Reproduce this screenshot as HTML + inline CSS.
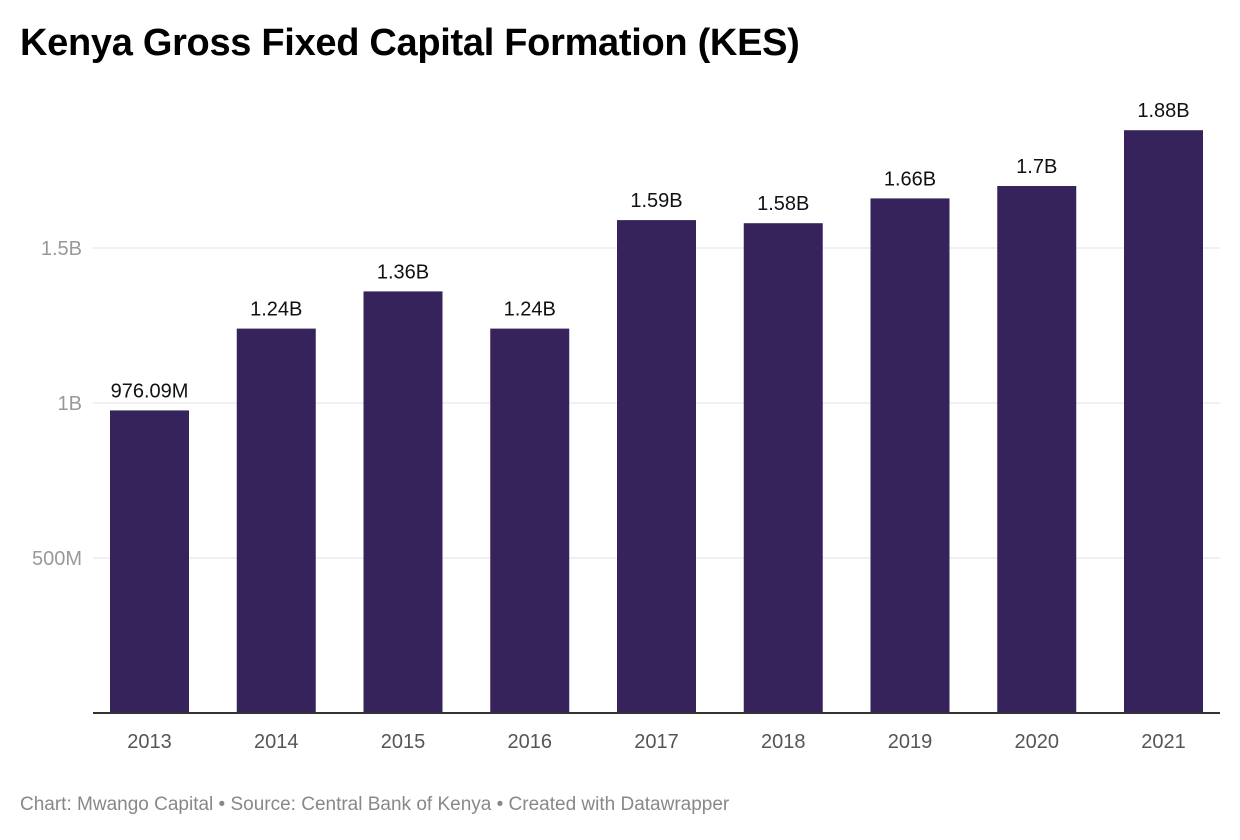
<!DOCTYPE html>
<html><head><meta charset="utf-8"><style>
body{margin:0;background:#fff;font-family:"Liberation Sans",Arial,sans-serif;}
#wrap{position:relative;width:1240px;height:840px;overflow:hidden}
h1{position:absolute;left:20px;top:22px;margin:0;font-size:38px;font-weight:bold;color:#000;letter-spacing:-0.3px}
#foot{position:absolute;left:20px;top:794px;font-size:19px;color:#888}
</style></head><body>
<div id="wrap">
<h1>Kenya Gross Fixed Capital Formation (KES)</h1>
<svg id="chart" width="1240" height="840" style="position:absolute;left:0;top:0"></svg>
<div id="foot">Chart: Mwango Capital • Source: Central Bank of Kenya • Created with Datawrapper</div>
</div>
<script>
const categories=["2013","2014","2015","2016","2017","2018","2019","2020","2021"];
const values=[976.09,1240,1360,1240,1590,1580,1660,1700,1880];
const valueLabels=["976.09M","1.24B","1.36B","1.24B","1.59B","1.58B","1.66B","1.7B","1.88B"];
const ticks=[500,1000,1500];
const tickLabels=["500M","1B","1.5B"];
const svg=document.getElementById('chart');
const NS="http://www.w3.org/2000/svg";
const base=713, pxPerM=0.31, x0=110, step=126.75, bw=79;
function y(v){return base-v*pxPerM;}
function x(i){return x0+i*step;}
function mk(t,a,txt){const e=document.createElementNS(NS,t);for(const k in a)e.setAttribute(k,a[k]);if(txt!==undefined)e.textContent=txt;svg.appendChild(e);return e;}
ticks.forEach((t,i)=>{
 const g=mk('line',{x1:93,x2:1220,y1:y(t),y2:y(t),stroke:'#e0e0e0','stroke-width':1});
 
 
 const l=mk('text',{x:82,y:y(t)+7,'text-anchor':'end','font-size':20,fill:'#999','font-family':'Liberation Sans, sans-serif'},tickLabels[i]);
 
 
});
values.forEach((v,i)=>{
 const r=mk('rect',{x:x(i),y:y(v),width:bw,height:base-y(v),fill:'#36235b'});
 
 
 const t=mk('text',{x:x(i)+bw/2,y:y(v)-13,'text-anchor':'middle','font-size':20,fill:'#111','font-family':'Liberation Sans, sans-serif'},valueLabels[i]);
 
 
 const c=mk('text',{x:x(i)+bw/2,y:748,'text-anchor':'middle','font-size':20,fill:'#555','font-family':'Liberation Sans, sans-serif'},categories[i]);
 
 
});
const ax=mk('line',{x1:93,x2:1220,y1:base,y2:base,stroke:'#333','stroke-width':2});


</script>
</body></html>
